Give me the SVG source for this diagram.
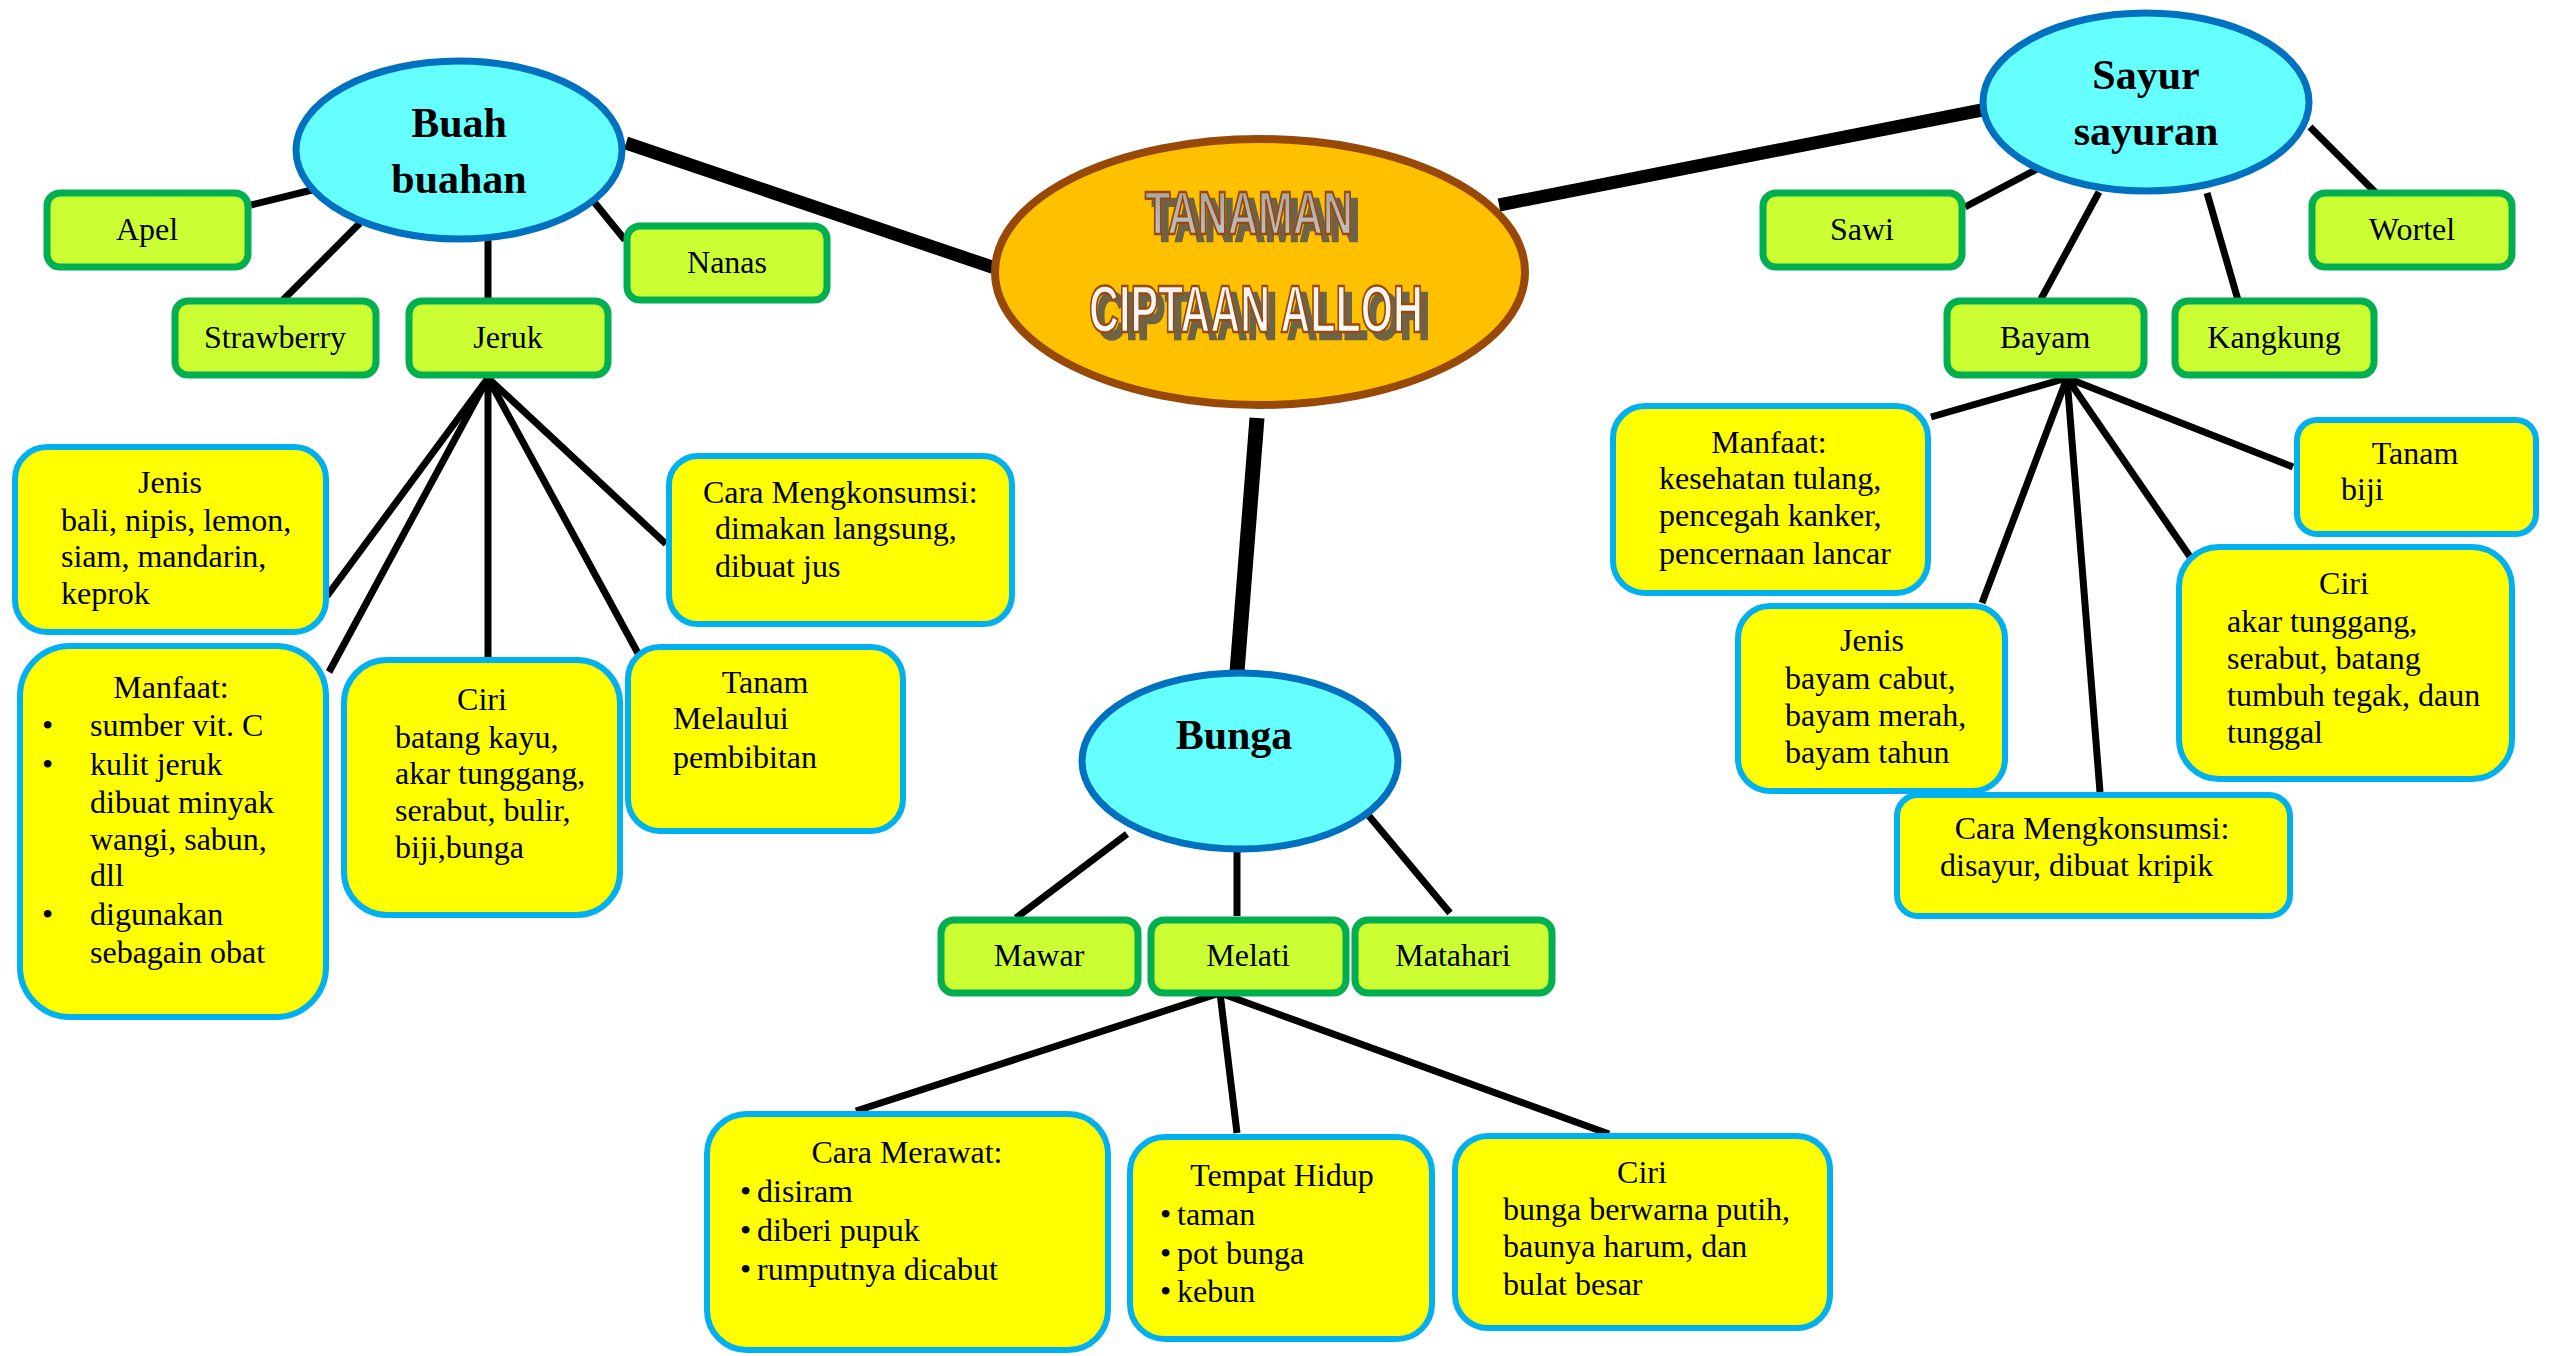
<svg xmlns="http://www.w3.org/2000/svg" width="2554" height="1356" viewBox="0 0 2554 1356">
<defs>
<style>
.t{font-family:"Liberation Serif","Times New Roman",serif;font-size:32px;fill:#000}
.c{text-anchor:middle}
.b{font-family:"Liberation Serif","Times New Roman",serif;font-size:42px;font-weight:bold;text-anchor:middle;fill:#000}
.g{fill:#CCFF33;stroke:#00B050;stroke-width:7}
.y{fill:#FFFF00;stroke:#00B0F0;stroke-width:6}
.e{fill:#66FFFF;stroke:#0070C0;stroke-width:7}
.thick{stroke:#000;stroke-width:13;fill:none}
.thin{stroke:#000;stroke-width:7;fill:none}
.wa{font-family:"Liberation Sans Narrow","Liberation Sans",Arial,sans-serif;font-weight:bold;text-anchor:start;stroke:#984807;stroke-width:2.5;filter:url(#sh)}
</style>
<linearGradient id="gGray" x1="0" y1="0" x2="0" y2="1">
<stop offset="0" stop-color="#A0A0A0"/><stop offset="1" stop-color="#C8C8C8"/>
</linearGradient>
<linearGradient id="gWhite" x1="0" y1="0" x2="0" y2="1">
<stop offset="0" stop-color="#EDEDED"/><stop offset="1" stop-color="#FFFFFF"/>
</linearGradient>
<filter id="sh" x="-10%" y="-30%" width="130%" height="180%">
<feFlood flood-color="#6E6446"/>
<feComposite in2="SourceAlpha" operator="in"/>
<feOffset dx="7" dy="7" result="s"/>
<feMerge><feMergeNode in="s"/><feMergeNode in="SourceGraphic"/></feMerge>
</filter>
</defs>
<rect width="2554" height="1356" fill="#FFFFFF"/>

<g id="connectors">
<line class="thick" x1="626" y1="143" x2="995" y2="268"/>
<line class="thick" x1="1499" y1="205" x2="1982" y2="110"/>
<line class="thick" x1="1257" y1="418" x2="1237" y2="672" style="stroke-width:15"/>
<line class="thin" x1="251" y1="205" x2="312" y2="190"/>
<line class="thin" x1="360" y1="223" x2="283" y2="300"/>
<line class="thin" x1="488" y1="240" x2="488" y2="300"/>
<line class="thin" x1="586" y1="192" x2="625" y2="240"/>
<line class="thin" x1="488" y1="378" x2="327" y2="596"/>
<line class="thin" x1="488" y1="378" x2="329" y2="672"/>
<line class="thin" x1="488" y1="378" x2="488" y2="657"/>
<line class="thin" x1="488" y1="378" x2="640" y2="657"/>
<line class="thin" x1="488" y1="378" x2="666" y2="544"/>
<line class="thin" x1="1965" y1="207" x2="2039" y2="168"/>
<line class="thin" x1="2099" y1="192" x2="2041" y2="299"/>
<line class="thin" x1="2207" y1="193" x2="2238" y2="300"/>
<line class="thin" x1="2310" y1="127" x2="2375" y2="192"/>
<line class="thin" x1="2067" y1="378" x2="1931" y2="417"/>
<line class="thin" x1="2067" y1="378" x2="1982" y2="603"/>
<line class="thin" x1="2067" y1="378" x2="2100" y2="792"/>
<line class="thin" x1="2067" y1="378" x2="2195" y2="564"/>
<line class="thin" x1="2067" y1="378" x2="2293" y2="467"/>
<line class="thin" x1="1127" y1="834" x2="1016" y2="918"/>
<line class="thin" x1="1237" y1="851" x2="1237" y2="916"/>
<line class="thin" x1="1369" y1="816" x2="1450" y2="913"/>
<line class="thin" x1="1220" y1="993" x2="856" y2="1111"/>
<line class="thin" x1="1220" y1="993" x2="1237" y2="1133"/>
<line class="thin" x1="1220" y1="993" x2="1609" y2="1134"/>
</g>

<g id="center">
<ellipse cx="1260" cy="272" rx="265" ry="133" fill="#FFC000" stroke="#984807" stroke-width="8"/>
<text class="wa" x="1145" y="234" font-size="62" textLength="208" lengthAdjust="spacingAndGlyphs" fill="url(#gGray)">TANAMAN</text>
<text class="wa" x="1089" y="332" font-size="67" textLength="334" lengthAdjust="spacingAndGlyphs" fill="url(#gWhite)">CIPTAAN ALLOH</text>
</g>

<g id="buah">
<ellipse class="e" cx="459" cy="150" rx="163" ry="89"/>
<text class="b" x="459" y="137">Buah</text>
<text class="b" x="459" y="193">buahan</text>
</g>
<g id="sayur">
<ellipse class="e" cx="2146" cy="102" rx="163" ry="89"/>
<text class="b" x="2146" y="89">Sayur</text>
<text class="b" x="2146" y="145">sayuran</text>
</g>
<g id="bunga">
<ellipse class="e" cx="1240" cy="761" rx="158" ry="88"/>
<text class="b" x="1234" y="749">Bunga</text>
</g>

<g id="apel"><rect class="g" x="47" y="193" width="201" height="74" rx="13"/><text class="t c" x="147" y="240">Apel</text></g>
<g id="strawberry"><rect class="g" x="175" y="301" width="201" height="74" rx="13"/><text class="t c" x="275" y="348">Strawberry</text></g>
<g id="jeruk"><rect class="g" x="409" y="301" width="199" height="74" rx="13"/><text class="t c" x="508" y="348">Jeruk</text></g>
<g id="nanas"><rect class="g" x="627" y="226" width="200" height="74" rx="13"/><text class="t c" x="727" y="273">Nanas</text></g>
<g id="sawi"><rect class="g" x="1763" y="193" width="199" height="74" rx="13"/><text class="t c" x="1862" y="240">Sawi</text></g>
<g id="wortel"><rect class="g" x="2312" y="193" width="200" height="74" rx="13"/><text class="t c" x="2412" y="240">Wortel</text></g>
<g id="bayam"><rect class="g" x="1947" y="301" width="197" height="74" rx="13"/><text class="t c" x="2045" y="348">Bayam</text></g>
<g id="kangkung"><rect class="g" x="2175" y="301" width="199" height="74" rx="13"/><text class="t c" x="2274" y="348">Kangkung</text></g>
<g id="mawar"><rect class="g" x="941" y="920" width="197" height="73" rx="13"/><text class="t c" x="1039" y="966">Mawar</text></g>
<g id="melati"><rect class="g" x="1151" y="920" width="195" height="73" rx="13"/><text class="t c" x="1248" y="966">Melati</text></g>
<g id="matahari"><rect class="g" x="1355" y="920" width="197" height="73" rx="13"/><text class="t c" x="1453" y="966">Matahari</text></g>

<g id="jeruk-jenis">
<rect class="y" x="15" y="447" width="311" height="185" rx="32"/>
<text class="t c" x="170" y="493">Jenis</text>
<text class="t" x="61" y="531">bali, nipis, lemon,</text>
<text class="t" x="61" y="567">siam, mandarin,</text>
<text class="t" x="61" y="604">keprok</text>
</g>
<g id="jeruk-manfaat">
<rect class="y" x="20" y="646" width="306" height="371" rx="50"/>
<text class="t c" x="171" y="698">Manfaat:</text>
<text class="t" x="42" y="736">•</text><text class="t" x="90" y="736">sumber vit. C</text>
<text class="t" x="42" y="775">•</text><text class="t" x="90" y="775">kulit jeruk</text>
<text class="t" x="90" y="813">dibuat minyak</text>
<text class="t" x="90" y="850">wangi, sabun,</text>
<text class="t" x="90" y="886">dll</text>
<text class="t" x="42" y="925">•</text><text class="t" x="90" y="925">digunakan</text>
<text class="t" x="90" y="963">sebagain obat</text>
</g>
<g id="jeruk-ciri">
<rect class="y" x="344" y="660" width="276" height="255" rx="43"/>
<text class="t c" x="482" y="710">Ciri</text>
<text class="t" x="395" y="748">batang kayu,</text>
<text class="t" x="395" y="784">akar tunggang,</text>
<text class="t" x="395" y="821">serabut, bulir,</text>
<text class="t" x="395" y="858">biji,bunga</text>
</g>
<g id="jeruk-tanam">
<rect class="y" x="628" y="647" width="275" height="184" rx="32"/>
<text class="t c" x="765" y="693">Tanam</text>
<text class="t" x="673" y="729">Melaului</text>
<text class="t" x="673" y="768">pembibitan</text>
</g>
<g id="jeruk-cara">
<rect class="y" x="669" y="456" width="343" height="168" rx="29"/>
<text class="t" x="703" y="503">Cara Mengkonsumsi:</text>
<text class="t" x="715" y="539">dimakan langsung,</text>
<text class="t" x="715" y="577">dibuat jus</text>
</g>

<g id="bayam-manfaat">
<rect class="y" x="1613" y="406" width="315" height="187" rx="32"/>
<text class="t c" x="1769" y="453">Manfaat:</text>
<text class="t" x="1659" y="489">kesehatan tulang,</text>
<text class="t" x="1659" y="526">pencegah kanker,</text>
<text class="t" x="1659" y="564">pencernaan lancar</text>
</g>
<g id="bayam-tanam">
<rect class="y" x="2297" y="420" width="239" height="114" rx="20"/>
<text class="t c" x="2415" y="464">Tanam</text>
<text class="t" x="2341" y="500">biji</text>
</g>
<g id="bayam-jenis">
<rect class="y" x="1738" y="606" width="267" height="185" rx="32"/>
<text class="t c" x="1872" y="651">Jenis</text>
<text class="t" x="1785" y="689">bayam cabut,</text>
<text class="t" x="1785" y="726">bayam merah,</text>
<text class="t" x="1785" y="763">bayam tahun</text>
</g>
<g id="bayam-ciri">
<rect class="y" x="2179" y="547" width="333" height="232" rx="40"/>
<text class="t c" x="2344" y="594">Ciri</text>
<text class="t" x="2227" y="632">akar tunggang,</text>
<text class="t" x="2227" y="669">serabut, batang</text>
<text class="t" x="2227" y="706">tumbuh tegak, daun</text>
<text class="t" x="2227" y="743">tunggal</text>
</g>
<g id="bayam-cara">
<rect class="y" x="1897" y="795" width="393" height="121" rx="21"/>
<text class="t c" x="2092" y="839">Cara Mengkonsumsi:</text>
<text class="t" x="1940" y="876">disayur, dibuat kripik</text>
</g>

<g id="melati-cara">
<rect class="y" x="707" y="1114" width="401" height="236" rx="40"/>
<text class="t c" x="907" y="1163">Cara Merawat:</text>
<text class="t" x="740" y="1202">•</text><text class="t" x="757" y="1202">disiram</text>
<text class="t" x="740" y="1241">•</text><text class="t" x="757" y="1241">diberi pupuk</text>
<text class="t" x="740" y="1280">•</text><text class="t" x="757" y="1280">rumputnya dicabut</text>
</g>
<g id="melati-tempat">
<rect class="y" x="1130" y="1137" width="302" height="202" rx="35"/>
<text class="t c" x="1282" y="1186">Tempat Hidup</text>
<text class="t" x="1160" y="1225">•</text><text class="t" x="1177" y="1225">taman</text>
<text class="t" x="1160" y="1264">•</text><text class="t" x="1177" y="1264">pot bunga</text>
<text class="t" x="1160" y="1302">•</text><text class="t" x="1177" y="1302">kebun</text>
</g>
<g id="melati-ciri">
<rect class="y" x="1455" y="1136" width="375" height="192" rx="33"/>
<text class="t c" x="1642" y="1183">Ciri</text>
<text class="t" x="1503" y="1220">bunga berwarna putih,</text>
<text class="t" x="1503" y="1257">baunya harum, dan</text>
<text class="t" x="1503" y="1295">bulat besar</text>
</g>
</svg>
